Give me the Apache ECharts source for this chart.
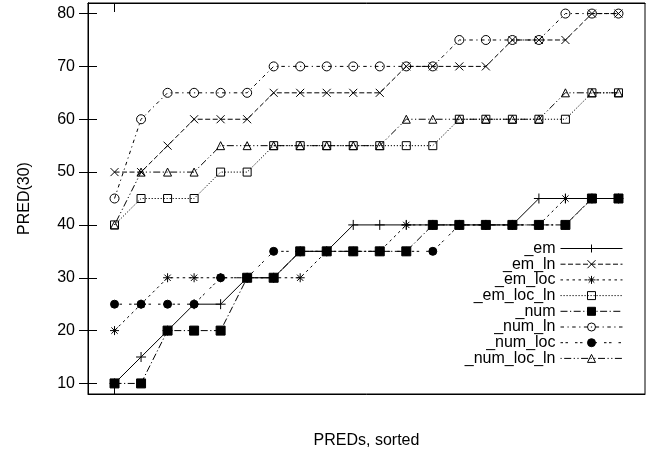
<!DOCTYPE html>
<html>
<head>
<meta charset="utf-8">
<script src="https://cdn.jsdelivr.net/npm/echarts@6/dist/echarts.min.js"></script>
<style>
html,body{margin:0;padding:0;background:#fff;}
#chart{width:667px;height:457px;}
</style>
</head>
<body>
<div id="chart"></div>
<script>
// Rank positions (x) of the sorted PREDs
const ranks = [1,2,3,4,5,6,7,8,9,10,11,12,13,14,15,16,17,18,19,20];
// Series values (PRED(30))
const em         = [10,15,20,25,25,30,30,35,35,40,40,40,40,40,40,40,45,45,45,45];
const em_ln      = [50,50,55,60,60,60,65,65,65,65,65,70,70,70,70,75,75,75,80,80];
const em_loc     = [20,25,30,30,30,30,30,30,35,35,35,40,40,40,40,40,40,45,45,45];
const em_loc_ln  = [40,45,45,45,50,50,55,55,55,55,55,55,55,60,60,60,60,60,65,65];
const num        = [10,10,20,20,20,30,30,35,35,35,35,35,40,40,40,40,40,40,45,45];
const num_ln     = [45,60,65,65,65,65,70,70,70,70,70,70,70,75,75,75,75,80,80,80];
const num_loc    = [25,25,25,25,30,30,35,35,35,35,35,35,35,40,40,40,40,40,45,45];
const num_loc_ln = [40,50,50,50,55,55,55,55,55,55,55,60,60,60,60,60,60,65,65,65];
const seriesNames = ['_em','_em_ln','_em_loc','_em_loc_ln','_num','_num_ln','_num_loc','_num_loc_ln'];
const seriesValues = [em, em_ln, em_loc, em_loc_ln, num, num_ln, num_loc, num_loc_ln];
const yTicks = [10,20,30,40,50,60,70,80];
const xTicks = [1];

const FONT = 'Liberation Sans, Arial, sans-serif';
const styles = [
  {symbol:'path://M0,5L10,5M5,0L5,10', size:10, dash:'solid', fill:'#000'},
  {symbol:'path://M0,0L10,10M10,0L0,10', size:8, dash:[5,2.5], fill:'#000'},
  {symbol:'path://M0,5L10,5M5,0L5,10M1.5,1.5L8.5,8.5M8.5,1.5L1.5,8.5', size:9, dash:[2.5,3.5], fill:'#000'},
  {symbol:'rect', size:8, dash:[1.2,1.8], fill:'rgba(0,0,0,0)'},
  {symbol:'rect', size:9, dash:[7,2.5,1.2,2.5], fill:'#000'},
  {symbol:'circle', size:9, dash:[3.5,3.5,1.2,3.5], fill:'rgba(0,0,0,0)'},
  {symbol:'circle', size:8, dash:[2.5,2.5,2.5,7], fill:'#000'},
  {symbol:'triangle', size:8, dash:[1.2,2.5,7,2.5,1.2,2.5], fill:'rgba(0,0,0,0)'}
];

const series = seriesNames.map((name, i) => ({
  name: name,
  type: 'line',
  xAxisIndex: 0,
  yAxisIndex: 0,
  data: ranks.map((r, k) => [r, seriesValues[i][k]]),
  symbol: styles[i].symbol,
  symbolSize: styles[i].size,
  showAllSymbol: true,
  lineStyle: {color:'#000', width:1, type: styles[i].dash},
  itemStyle: {color: styles[i].fill, borderColor:'#000', borderWidth:1},
  emphasis: {disabled:true},
  animation: false
}));

const chart = echarts.init(document.getElementById('chart'));
const axisCommon = {
  axisLine: {show:true, lineStyle:{color:'#000', width:1}},
  splitLine: {show:false}
};
chart.setOption({
  animation: false,
  backgroundColor: '#fff',
  textStyle: {fontFamily: FONT},
  grid: {left:88, right:22, top:3, bottom:63, show:true, borderColor:'#000', borderWidth:1},
  xAxis: [
    Object.assign({}, axisCommon, {
      type:'value', min:0, max:21, position:'bottom',
      axisTick:{show:true, inside:true, length:9, customValues:xTicks, lineStyle:{color:'#000'}},
      axisLabel:{show:false},
      name:'PREDs, sorted', nameLocation:'middle', nameGap:39,
      nameTextStyle:{fontFamily:FONT, fontSize:16, color:'#000'}
    }),
    Object.assign({}, axisCommon, {
      type:'value', min:0, max:21, position:'top',
      axisTick:{show:true, inside:true, length:9, customValues:xTicks, lineStyle:{color:'#000'}},
      axisLabel:{show:false}
    })
  ],
  yAxis: [
    Object.assign({}, axisCommon, {
      type:'value', min:8, max:82, position:'left',
      axisTick:{show:true, inside:true, length:9, customValues:yTicks, lineStyle:{color:'#000'}},
      axisLabel:{show:true, customValues:yTicks, margin:13, fontFamily:FONT, fontSize:16, color:'#000'},
      name:'PRED(30)', nameLocation:'middle', nameGap:55, nameRotate:90,
      nameTextStyle:{fontFamily:FONT, fontSize:16, color:'#000'}
    }),
    Object.assign({}, axisCommon, {
      type:'value', min:8, max:82, position:'right',
      axisTick:{show:true, inside:true, length:9, customValues:yTicks, lineStyle:{color:'#000'}},
      axisLabel:{show:false}
    })
  ],
  legend: {
    orient:'vertical', align:'right', right:44, top:240.5, padding:0,
    itemWidth:62, itemHeight:10, itemGap:-0.3,
    textStyle:{fontFamily:FONT, fontSize:16, color:'#000'},
    lineStyle:{width:1},
    itemStyle:{borderWidth:1},
    data: seriesNames,
    selectedMode:false
  },
  series: series
});
</script>
</body>
</html>
